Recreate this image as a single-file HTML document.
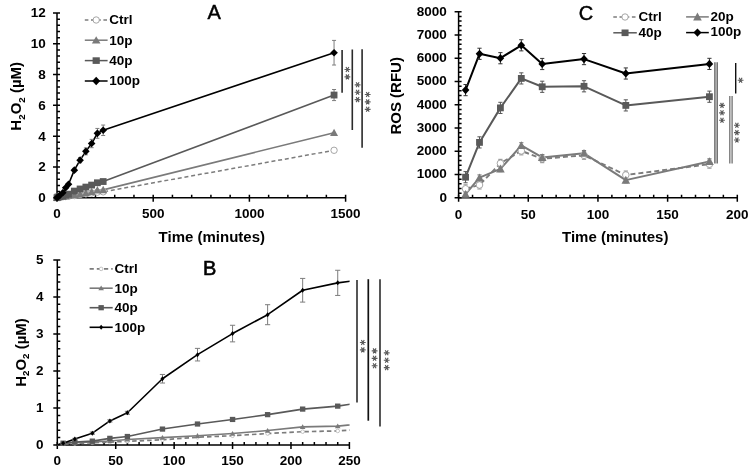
<!DOCTYPE html><html><head><meta charset="utf-8"><style>html,body{margin:0;padding:0;background:#fff;}svg{display:block;will-change:transform;}text{font-family:"Liberation Sans", sans-serif;}</style></head><body>
<svg width="751" height="471" viewBox="0 0 751 471">
<rect width="751" height="471" fill="#fff"/>
<defs><clipPath id="clipB"><rect x="57" y="255" width="292.6" height="195"/></clipPath></defs>
<path d="M57 13V197.7M53 197.7H60M53 166.92H60M53 136.13H60M53 105.35H60M53 74.57H60M53 43.78H60M53 13H60M57 191.54H60M57 185.39H60M57 179.23H60M57 173.07H60M57 160.76H60M57 154.6H60M57 148.45H60M57 142.29H60M57 129.98H60M57 123.82H60M57 117.66H60M57 111.51H60M57 99.19H60M57 93.04H60M57 86.88H60M57 80.72H60M57 68.41H60M57 62.25H60M57 56.1H60M57 49.94H60M57 37.63H60M57 31.47H60M57 25.31H60M57 19.16H60" stroke="#000" stroke-width="1.5" fill="none"/>
<path d="M57 197.7H345.6M57 194.7V201.7M153.2 194.7V201.7M249.4 194.7V201.7M345.6 194.7V201.7M76.24 194.7V197.7M95.48 194.7V197.7M114.72 194.7V197.7M133.96 194.7V197.7M172.44 194.7V197.7M191.68 194.7V197.7M210.92 194.7V197.7M230.16 194.7V197.7M268.64 194.7V197.7M287.88 194.7V197.7M307.12 194.7V197.7M326.36 194.7V197.7" stroke="#000" stroke-width="1.5" fill="none"/>
<text x="45.8" y="202.1" font-size="13.5" font-weight="bold" text-anchor="end" fill="#000">0</text>
<text x="45.8" y="171.32" font-size="13.5" font-weight="bold" text-anchor="end" fill="#000">2</text>
<text x="45.8" y="140.53" font-size="13.5" font-weight="bold" text-anchor="end" fill="#000">4</text>
<text x="45.8" y="109.75" font-size="13.5" font-weight="bold" text-anchor="end" fill="#000">6</text>
<text x="45.8" y="78.97" font-size="13.5" font-weight="bold" text-anchor="end" fill="#000">8</text>
<text x="45.8" y="48.18" font-size="13.5" font-weight="bold" text-anchor="end" fill="#000">10</text>
<text x="45.8" y="17.4" font-size="13.5" font-weight="bold" text-anchor="end" fill="#000">12</text>
<text x="57" y="218.3" font-size="13.5" font-weight="bold" text-anchor="middle" fill="#000">0</text>
<text x="153.2" y="218.3" font-size="13.5" font-weight="bold" text-anchor="middle" fill="#000">500</text>
<text x="249.4" y="218.3" font-size="13.5" font-weight="bold" text-anchor="middle" fill="#000">1000</text>
<text x="345.6" y="218.3" font-size="13.5" font-weight="bold" text-anchor="middle" fill="#000">1500</text>
<text x="211.8" y="242.4" font-size="15" font-weight="bold" text-anchor="middle" fill="#000">Time (minutes)</text>
<text transform="translate(21.3 96.3) rotate(-90)" font-size="15" font-weight="bold" text-anchor="middle" fill="#000">H<tspan font-size="9.8" dy="3.5">2</tspan><tspan dy="-3.5">O</tspan><tspan font-size="9.8" dy="3.5">2</tspan><tspan dy="-3.5"> (µM)</tspan></text>
<text x="214.1" y="19.2" font-size="20" font-weight="normal" text-anchor="middle" fill="#000" stroke="#000" stroke-width="0.45">A</text>
<polyline points="57,197.7 57.96,197.24 59.89,197.08 62.77,196.78 65.66,196.47 68.54,196.16 74.32,195.55 80.09,194.47 85.86,193.85 91.63,192.93 97.4,192.16 103.18,191.85 334.06,150.29" fill="none" stroke="#7c7c7c" stroke-width="1.5" stroke-linejoin="round" stroke-dasharray="4 2.8"/>
<polyline points="57,197.7 57.96,197.08 59.89,196.78 62.77,196.47 65.66,196.01 68.54,195.39 74.32,194.62 80.09,193.85 85.86,192.93 91.63,191.7 97.4,190.16 103.18,189.85 334.06,132.75" fill="none" stroke="#7a7a7a" stroke-width="1.6" stroke-linejoin="round"/>
<polyline points="57,197.7 57.96,196.93 59.89,196.47 62.77,196.08 65.66,194.93 68.54,194.16 74.32,191.08 80.09,188.97 85.86,187.08 91.63,185.08 97.4,182.77 103.18,181.54 334.06,95.04" fill="none" stroke="#595959" stroke-width="1.6" stroke-linejoin="round"/>
<polyline points="57,197.7 57.96,196.93 59.89,195.24 62.77,192.77 65.66,187.7 68.54,184.31 74.32,170.15 80.09,160.14 85.86,151.37 91.63,143.52 97.4,133.36 103.18,130.28 334.06,52.71" fill="none" stroke="#000" stroke-width="1.6" stroke-linejoin="round"/>
<path d="M334.06 40.4V65.02M332.06 40.4H336.06M332.06 65.02H336.06" stroke="#7d7d7d" stroke-width="1.0" fill="none"/>
<path d="M334.06 89.5V100.58M332.06 89.5H336.06M332.06 100.58H336.06" stroke="#7d7d7d" stroke-width="1.0" fill="none"/>


<path d="M59.89 194.93V195.55M57.89 194.93H61.89M57.89 195.55H61.89" stroke="#7d7d7d" stroke-width="1.0" fill="none"/>
<path d="M62.77 192.31V193.24M60.77 192.31H64.77M60.77 193.24H64.77" stroke="#7d7d7d" stroke-width="1.0" fill="none"/>
<path d="M65.66 187.23V188.16M63.66 187.23H67.66M63.66 188.16H67.66" stroke="#7d7d7d" stroke-width="1.0" fill="none"/>
<path d="M68.54 183.69V184.92M66.54 183.69H70.54M66.54 184.92H70.54" stroke="#7d7d7d" stroke-width="1.0" fill="none"/>
<path d="M74.32 168.36V171.93M72.32 168.36H76.32M72.32 171.93H76.32" stroke="#7d7d7d" stroke-width="1.0" fill="none"/>
<path d="M80.09 157.53V162.76M78.09 157.53H82.09M78.09 162.76H82.09" stroke="#7d7d7d" stroke-width="1.0" fill="none"/>
<path d="M85.86 147.92V154.82M83.86 147.92H87.86M83.86 154.82H87.86" stroke="#7d7d7d" stroke-width="1.0" fill="none"/>
<path d="M91.63 139.37V147.68M89.63 139.37H93.63M89.63 147.68H93.63" stroke="#7d7d7d" stroke-width="1.0" fill="none"/>
<path d="M97.4 128.44V138.29M95.4 128.44H99.4M95.4 138.29H99.4" stroke="#7d7d7d" stroke-width="1.0" fill="none"/>
<path d="M103.18 125.05V135.52M101.18 125.05H105.18M101.18 135.52H105.18" stroke="#7d7d7d" stroke-width="1.0" fill="none"/>
<circle cx="57" cy="197.7" r="3.2" fill="#fff" stroke="#a6a6a6" stroke-width="1.0"/>
<circle cx="57.96" cy="197.24" r="3.2" fill="#fff" stroke="#a6a6a6" stroke-width="1.0"/>
<circle cx="59.89" cy="197.08" r="3.2" fill="#fff" stroke="#a6a6a6" stroke-width="1.0"/>
<circle cx="62.77" cy="196.78" r="3.2" fill="#fff" stroke="#a6a6a6" stroke-width="1.0"/>
<circle cx="65.66" cy="196.47" r="3.2" fill="#fff" stroke="#a6a6a6" stroke-width="1.0"/>
<circle cx="68.54" cy="196.16" r="3.2" fill="#fff" stroke="#a6a6a6" stroke-width="1.0"/>
<circle cx="74.32" cy="195.55" r="3.2" fill="#fff" stroke="#a6a6a6" stroke-width="1.0"/>
<circle cx="80.09" cy="194.47" r="3.2" fill="#fff" stroke="#a6a6a6" stroke-width="1.0"/>
<circle cx="85.86" cy="193.85" r="3.2" fill="#fff" stroke="#a6a6a6" stroke-width="1.0"/>
<circle cx="91.63" cy="192.93" r="3.2" fill="#fff" stroke="#a6a6a6" stroke-width="1.0"/>
<circle cx="97.4" cy="192.16" r="3.2" fill="#fff" stroke="#a6a6a6" stroke-width="1.0"/>
<circle cx="103.18" cy="191.85" r="3.2" fill="#fff" stroke="#a6a6a6" stroke-width="1.0"/>
<circle cx="334.06" cy="150.29" r="3.2" fill="#fff" stroke="#a6a6a6" stroke-width="1.0"/>
<path d="M57 193.63L61 201.03L53 201.03Z" fill="#7a7a7a"/>
<path d="M57.96 193.01L61.96 200.41L53.96 200.41Z" fill="#7a7a7a"/>
<path d="M59.89 192.71L63.89 200.11L55.89 200.11Z" fill="#7a7a7a"/>
<path d="M62.77 192.4L66.77 199.8L58.77 199.8Z" fill="#7a7a7a"/>
<path d="M65.66 191.94L69.66 199.34L61.66 199.34Z" fill="#7a7a7a"/>
<path d="M68.54 191.32L72.54 198.72L64.54 198.72Z" fill="#7a7a7a"/>
<path d="M74.32 190.55L78.32 197.95L70.32 197.95Z" fill="#7a7a7a"/>
<path d="M80.09 189.78L84.09 197.18L76.09 197.18Z" fill="#7a7a7a"/>
<path d="M85.86 188.86L89.86 196.26L81.86 196.26Z" fill="#7a7a7a"/>
<path d="M91.63 187.63L95.63 195.03L87.63 195.03Z" fill="#7a7a7a"/>
<path d="M97.4 186.09L101.4 193.49L93.4 193.49Z" fill="#7a7a7a"/>
<path d="M103.18 185.78L107.18 193.18L99.18 193.18Z" fill="#7a7a7a"/>
<path d="M334.06 128.68L338.06 136.08L330.06 136.08Z" fill="#7a7a7a"/>
<rect x="53.6" y="194.3" width="6.8" height="6.8" fill="#595959"/>
<rect x="54.56" y="193.53" width="6.8" height="6.8" fill="#595959"/>
<rect x="56.49" y="193.07" width="6.8" height="6.8" fill="#595959"/>
<rect x="59.37" y="192.68" width="6.8" height="6.8" fill="#595959"/>
<rect x="62.26" y="191.53" width="6.8" height="6.8" fill="#595959"/>
<rect x="65.14" y="190.76" width="6.8" height="6.8" fill="#595959"/>
<rect x="70.92" y="187.68" width="6.8" height="6.8" fill="#595959"/>
<rect x="76.69" y="185.57" width="6.8" height="6.8" fill="#595959"/>
<rect x="82.46" y="183.68" width="6.8" height="6.8" fill="#595959"/>
<rect x="88.23" y="181.68" width="6.8" height="6.8" fill="#595959"/>
<rect x="94" y="179.37" width="6.8" height="6.8" fill="#595959"/>
<rect x="99.78" y="178.14" width="6.8" height="6.8" fill="#595959"/>
<rect x="330.66" y="91.64" width="6.8" height="6.8" fill="#595959"/>
<path d="M57 193.9L60.8 197.7L57 201.5L53.2 197.7Z" fill="#000"/>
<path d="M57.96 193.13L61.76 196.93L57.96 200.73L54.16 196.93Z" fill="#000"/>
<path d="M59.89 191.44L63.69 195.24L59.89 199.04L56.09 195.24Z" fill="#000"/>
<path d="M62.77 188.97L66.57 192.77L62.77 196.57L58.97 192.77Z" fill="#000"/>
<path d="M65.66 183.9L69.46 187.7L65.66 191.5L61.86 187.7Z" fill="#000"/>
<path d="M68.54 180.51L72.34 184.31L68.54 188.11L64.74 184.31Z" fill="#000"/>
<path d="M74.32 166.35L78.12 170.15L74.32 173.95L70.52 170.15Z" fill="#000"/>
<path d="M80.09 156.34L83.89 160.14L80.09 163.94L76.29 160.14Z" fill="#000"/>
<path d="M85.86 147.57L89.66 151.37L85.86 155.17L82.06 151.37Z" fill="#000"/>
<path d="M91.63 139.72L95.43 143.52L91.63 147.32L87.83 143.52Z" fill="#000"/>
<path d="M97.4 129.56L101.2 133.36L97.4 137.16L93.6 133.36Z" fill="#000"/>
<path d="M103.18 126.48L106.98 130.28L103.18 134.08L99.38 130.28Z" fill="#000"/>
<path d="M334.06 48.91L337.86 52.71L334.06 56.51L330.26 52.71Z" fill="#000"/>
<path d="M84.8 20H107.6" stroke="#7c7c7c" stroke-width="1.5" stroke-dasharray="3.6 2.6"/><circle cx="96.2" cy="20" r="3.2" fill="#fff" stroke="#a6a6a6" stroke-width="1.0"/><text x="109.2" y="24.3" font-size="13.5" font-weight="bold" text-anchor="start" fill="#000">Ctrl</text>
<path d="M84.8 40.2H107.6" stroke="#7a7a7a" stroke-width="1.5"/><path d="M96.2 36.13L100.5 43.53L91.9 43.53Z" fill="#7a7a7a"/><text x="109.2" y="44.5" font-size="13.5" font-weight="bold" text-anchor="start" fill="#000">10p</text>
<path d="M84.8 60.6H107.6" stroke="#595959" stroke-width="1.5"/><rect x="92.6" y="57.3" width="7.2" height="6.6" fill="#595959"/><text x="109.2" y="64.9" font-size="13.5" font-weight="bold" text-anchor="start" fill="#000">40p</text>
<path d="M84.8 81H107.6" stroke="#000" stroke-width="1.5"/><path d="M96.2 76.8L100.2 81L96.2 85.2L92.2 81Z" fill="#000"/><text x="109.2" y="85.3" font-size="13.5" font-weight="bold" text-anchor="start" fill="#000">100p</text>
<path d="M342.1 49.9V92.8M352.3 49.6V129.9M362.1 49.2V147.7" stroke="#2b2b2b" stroke-width="1.6" fill="none"/>
<path d="M344.5 69.5L350.3 69.5M345.95 66.99L348.85 72.01M348.85 66.99L345.95 72.01" stroke="#5a5a5a" stroke-width="1.15" fill="none"/><path d="M344.5 76.9L350.3 76.9M345.95 74.39L348.85 79.41M348.85 74.39L345.95 79.41" stroke="#5a5a5a" stroke-width="1.15" fill="none"/>
<path d="M354.7 84.8L360.5 84.8M356.15 82.29L359.05 87.31M359.05 82.29L356.15 87.31" stroke="#5a5a5a" stroke-width="1.15" fill="none"/><path d="M354.7 92.2L360.5 92.2M356.15 89.69L359.05 94.71M359.05 89.69L356.15 94.71" stroke="#5a5a5a" stroke-width="1.15" fill="none"/><path d="M354.7 99.6L360.5 99.6M356.15 97.09L359.05 102.11M359.05 97.09L356.15 102.11" stroke="#5a5a5a" stroke-width="1.15" fill="none"/>
<path d="M364.8 94.5L370.6 94.5M366.25 91.99L369.15 97.01M369.15 91.99L366.25 97.01" stroke="#5a5a5a" stroke-width="1.15" fill="none"/><path d="M364.8 101.9L370.6 101.9M366.25 99.39L369.15 104.41M369.15 99.39L366.25 104.41" stroke="#5a5a5a" stroke-width="1.15" fill="none"/><path d="M364.8 109.3L370.6 109.3M366.25 106.79L369.15 111.81M369.15 106.79L366.25 111.81" stroke="#5a5a5a" stroke-width="1.15" fill="none"/>
<path d="M57.3 259.9V445M53.3 445H60.3M53.3 407.98H60.3M53.3 370.96H60.3M53.3 333.94H60.3M53.3 296.92H60.3M53.3 259.9H60.3M57.3 437.6H60.3M57.3 430.19H60.3M57.3 422.79H60.3M57.3 415.38H60.3M57.3 400.58H60.3M57.3 393.17H60.3M57.3 385.77H60.3M57.3 378.36H60.3M57.3 363.56H60.3M57.3 356.15H60.3M57.3 348.75H60.3M57.3 341.34H60.3M57.3 326.54H60.3M57.3 319.13H60.3M57.3 311.73H60.3M57.3 304.32H60.3M57.3 289.52H60.3M57.3 282.11H60.3M57.3 274.71H60.3M57.3 267.3H60.3" stroke="#000" stroke-width="1.5" fill="none"/>
<path d="M57.3 445H349.4M57.3 442V449M115.72 442V449M174.14 442V449M232.56 442V449M290.98 442V449M349.4 442V449M68.98 442V445M80.67 442V445M92.35 442V445M104.04 442V445M127.4 442V445M139.09 442V445M150.77 442V445M162.46 442V445M185.82 442V445M197.51 442V445M209.19 442V445M220.88 442V445M244.24 442V445M255.93 442V445M267.61 442V445M279.3 442V445M302.66 442V445M314.35 442V445M326.03 442V445M337.72 442V445" stroke="#000" stroke-width="1.5" fill="none"/>
<text x="43.6" y="449.1" font-size="13.5" font-weight="bold" text-anchor="end" fill="#000">0</text>
<text x="43.6" y="412.08" font-size="13.5" font-weight="bold" text-anchor="end" fill="#000">1</text>
<text x="43.6" y="375.06" font-size="13.5" font-weight="bold" text-anchor="end" fill="#000">2</text>
<text x="43.6" y="338.04" font-size="13.5" font-weight="bold" text-anchor="end" fill="#000">3</text>
<text x="43.6" y="301.02" font-size="13.5" font-weight="bold" text-anchor="end" fill="#000">4</text>
<text x="43.6" y="264" font-size="13.5" font-weight="bold" text-anchor="end" fill="#000">5</text>
<text x="57.3" y="464.8" font-size="13.5" font-weight="bold" text-anchor="middle" fill="#000">0</text>
<text x="115.72" y="464.8" font-size="13.5" font-weight="bold" text-anchor="middle" fill="#000">50</text>
<text x="174.14" y="464.8" font-size="13.5" font-weight="bold" text-anchor="middle" fill="#000">100</text>
<text x="232.56" y="464.8" font-size="13.5" font-weight="bold" text-anchor="middle" fill="#000">150</text>
<text x="290.98" y="464.8" font-size="13.5" font-weight="bold" text-anchor="middle" fill="#000">200</text>
<text x="349.4" y="464.8" font-size="13.5" font-weight="bold" text-anchor="middle" fill="#000">250</text>
<text transform="translate(25.8 352.5) rotate(-90)" font-size="15" font-weight="bold" text-anchor="middle" fill="#000">H<tspan font-size="9.8" dy="3.5">2</tspan><tspan dy="-3.5">O</tspan><tspan font-size="9.8" dy="3.5">2</tspan><tspan dy="-3.5"> (µM)</tspan></text>
<text x="209.6" y="274.5" font-size="20" font-weight="normal" text-anchor="middle" fill="#000" stroke="#000" stroke-width="0.6">B</text>
<polyline points="57.3,445 63.14,443.89 74.83,443.52 92.35,442.78 109.88,442.04 127.4,441.3 162.46,439.82 197.51,437.23 232.56,435.75 267.61,433.52 302.66,431.67 337.72,430.93 1739.8,330.98" fill="none" stroke="#7c7c7c" stroke-width="1.7" stroke-linejoin="round" stroke-dasharray="4.5 3" clip-path="url(#clipB)"/>
<polyline points="57.3,445 63.14,443.52 74.83,442.78 92.35,442.04 109.88,440.93 127.4,439.45 162.46,437.6 197.51,435.75 232.56,433.52 267.61,430.56 302.66,426.86 337.72,426.12 1739.8,288.78" fill="none" stroke="#7a7a7a" stroke-width="1.6" stroke-linejoin="round" clip-path="url(#clipB)"/>
<polyline points="57.3,445 63.14,443.15 74.83,442.04 92.35,441.11 109.88,438.34 127.4,436.49 162.46,429.08 197.51,424.01 232.56,419.46 267.61,414.64 302.66,409.09 337.72,406.13 1739.8,198.08" fill="none" stroke="#595959" stroke-width="1.6" stroke-linejoin="round" clip-path="url(#clipB)"/>
<polyline points="57.3,445 63.14,443.15 74.83,439.08 92.35,433.15 109.88,420.94 127.4,412.79 162.46,378.73 197.51,354.67 232.56,333.57 267.61,314.69 302.66,290.26 337.72,282.85 1739.8,96.27" fill="none" stroke="#000" stroke-width="1.6" stroke-linejoin="round" clip-path="url(#clipB)"/>

<path d="M63.14 442.78V443.52M60.54 442.78H65.74M60.54 443.52H65.74" stroke="#7d7d7d" stroke-width="1.0" fill="none"/>
<path d="M74.83 438.34V439.82M72.23 438.34H77.43M72.23 439.82H77.43" stroke="#7d7d7d" stroke-width="1.0" fill="none"/>
<path d="M92.35 432.04V434.26M89.75 432.04H94.95M89.75 434.26H94.95" stroke="#7d7d7d" stroke-width="1.0" fill="none"/>
<path d="M109.88 419.83V422.05M107.28 419.83H112.48M107.28 422.05H112.48" stroke="#7d7d7d" stroke-width="1.0" fill="none"/>
<path d="M127.4 411.31V414.27M124.8 411.31H130M124.8 414.27H130" stroke="#7d7d7d" stroke-width="1.0" fill="none"/>
<path d="M162.46 374.44V383.03M159.86 374.44H165.06M159.86 383.03H165.06" stroke="#7d7d7d" stroke-width="1.0" fill="none"/>
<path d="M197.51 348.38V360.96M194.91 348.38H200.11M194.91 360.96H200.11" stroke="#7d7d7d" stroke-width="1.0" fill="none"/>
<path d="M232.56 325.28V341.86M229.96 325.28H235.16M229.96 341.86H235.16" stroke="#7d7d7d" stroke-width="1.0" fill="none"/>
<path d="M267.61 304.69V324.69M265.01 304.69H270.21M265.01 324.69H270.21" stroke="#7d7d7d" stroke-width="1.0" fill="none"/>
<path d="M302.66 278.41V302.1M300.06 278.41H305.26M300.06 302.1H305.26" stroke="#7d7d7d" stroke-width="1.0" fill="none"/>
<path d="M337.72 270.27V295.44M335.12 270.27H340.32M335.12 295.44H340.32" stroke="#7d7d7d" stroke-width="1.0" fill="none"/>
<circle cx="63.14" cy="443.89" r="1.8" fill="#fff" stroke="#b5b5b5" stroke-width="0.8"/>
<circle cx="74.83" cy="443.52" r="1.8" fill="#fff" stroke="#b5b5b5" stroke-width="0.8"/>
<circle cx="92.35" cy="442.78" r="1.8" fill="#fff" stroke="#b5b5b5" stroke-width="0.8"/>
<circle cx="109.88" cy="442.04" r="1.8" fill="#fff" stroke="#b5b5b5" stroke-width="0.8"/>
<circle cx="127.4" cy="441.3" r="1.8" fill="#fff" stroke="#b5b5b5" stroke-width="0.8"/>
<circle cx="162.46" cy="439.82" r="1.8" fill="#fff" stroke="#b5b5b5" stroke-width="0.8"/>
<circle cx="197.51" cy="437.23" r="1.8" fill="#fff" stroke="#b5b5b5" stroke-width="0.8"/>
<circle cx="232.56" cy="435.75" r="1.8" fill="#fff" stroke="#b5b5b5" stroke-width="0.8"/>
<circle cx="267.61" cy="433.52" r="1.8" fill="#fff" stroke="#b5b5b5" stroke-width="0.8"/>
<circle cx="302.66" cy="431.67" r="1.8" fill="#fff" stroke="#b5b5b5" stroke-width="0.8"/>
<circle cx="337.72" cy="430.93" r="1.8" fill="#fff" stroke="#b5b5b5" stroke-width="0.8"/>
<path d="M63.14 440.88L65.94 445.68L60.34 445.68Z" fill="#7a7a7a"/>
<path d="M74.83 440.14L77.63 444.94L72.03 444.94Z" fill="#7a7a7a"/>
<path d="M92.35 439.4L95.15 444.2L89.55 444.2Z" fill="#7a7a7a"/>
<path d="M109.88 438.29L112.68 443.09L107.08 443.09Z" fill="#7a7a7a"/>
<path d="M127.4 436.81L130.2 441.61L124.6 441.61Z" fill="#7a7a7a"/>
<path d="M162.46 434.96L165.26 439.76L159.66 439.76Z" fill="#7a7a7a"/>
<path d="M197.51 433.11L200.31 437.91L194.71 437.91Z" fill="#7a7a7a"/>
<path d="M232.56 430.88L235.36 435.68L229.76 435.68Z" fill="#7a7a7a"/>
<path d="M267.61 427.92L270.41 432.72L264.81 432.72Z" fill="#7a7a7a"/>
<path d="M302.66 424.22L305.46 429.02L299.86 429.02Z" fill="#7a7a7a"/>
<path d="M337.72 423.48L340.52 428.28L334.92 428.28Z" fill="#7a7a7a"/>
<rect x="60.44" y="440.55" width="5.4" height="5.2" fill="#595959"/>
<rect x="72.13" y="439.44" width="5.4" height="5.2" fill="#595959"/>
<rect x="89.65" y="438.51" width="5.4" height="5.2" fill="#595959"/>
<rect x="107.18" y="435.74" width="5.4" height="5.2" fill="#595959"/>
<rect x="124.7" y="433.89" width="5.4" height="5.2" fill="#595959"/>
<rect x="159.76" y="426.48" width="5.4" height="5.2" fill="#595959"/>
<rect x="194.81" y="421.41" width="5.4" height="5.2" fill="#595959"/>
<rect x="229.86" y="416.86" width="5.4" height="5.2" fill="#595959"/>
<rect x="264.91" y="412.04" width="5.4" height="5.2" fill="#595959"/>
<rect x="299.96" y="406.49" width="5.4" height="5.2" fill="#595959"/>
<rect x="335.02" y="403.53" width="5.4" height="5.2" fill="#595959"/>
<path d="M63.14 440.65L65.14 443.15L63.14 445.65L61.14 443.15Z" fill="#000"/>
<path d="M74.83 436.58L76.83 439.08L74.83 441.58L72.83 439.08Z" fill="#000"/>
<path d="M92.35 430.65L94.35 433.15L92.35 435.65L90.35 433.15Z" fill="#000"/>
<path d="M109.88 418.44L111.88 420.94L109.88 423.44L107.88 420.94Z" fill="#000"/>
<path d="M127.4 410.29L129.4 412.79L127.4 415.29L125.4 412.79Z" fill="#000"/>
<path d="M162.46 376.23L164.46 378.73L162.46 381.23L160.46 378.73Z" fill="#000"/>
<path d="M197.51 352.17L199.51 354.67L197.51 357.17L195.51 354.67Z" fill="#000"/>
<path d="M232.56 331.07L234.56 333.57L232.56 336.07L230.56 333.57Z" fill="#000"/>
<path d="M267.61 312.19L269.61 314.69L267.61 317.19L265.61 314.69Z" fill="#000"/>
<path d="M302.66 287.76L304.66 290.26L302.66 292.76L300.66 290.26Z" fill="#000"/>
<path d="M337.72 280.35L339.72 282.85L337.72 285.35L335.72 282.85Z" fill="#000"/>
<path d="M89.6 268.9H112.7" stroke="#7c7c7c" stroke-width="1.6" stroke-dasharray="4.2 3"/><circle cx="101.15" cy="268.9" r="1.8" fill="#fff" stroke="#b5b5b5" stroke-width="0.8"/><text x="114.6" y="273.2" font-size="13.5" font-weight="bold" text-anchor="start" fill="#000">Ctrl</text>
<path d="M89.6 288.2H112.7" stroke="#7a7a7a" stroke-width="1.6"/><path d="M101.15 285.56L103.95 290.36L98.35 290.36Z" fill="#7a7a7a"/><text x="114.6" y="292.5" font-size="13.5" font-weight="bold" text-anchor="start" fill="#000">10p</text>
<path d="M89.6 307.7H112.7" stroke="#595959" stroke-width="1.6"/><rect x="98.45" y="305.1" width="5.4" height="5.2" fill="#595959"/><text x="114.6" y="312" font-size="13.5" font-weight="bold" text-anchor="start" fill="#000">40p</text>
<path d="M89.6 327.3H112.7" stroke="#000" stroke-width="1.6"/><path d="M101.15 324.8L103.15 327.3L101.15 329.8L99.15 327.3Z" fill="#000"/><text x="114.6" y="331.6" font-size="13.5" font-weight="bold" text-anchor="start" fill="#000">100p</text>
<path d="M357 280V402.5M380 279.2V426.4" stroke="#3a3a3a" stroke-width="1.7" fill="none"/>
<path d="M368.3 279.2V420.7" stroke="#111" stroke-width="1.7" fill="none"/>
<path d="M359.9 342.5L365.7 342.5M361.35 339.99L364.25 345.01M364.25 339.99L361.35 345.01" stroke="#5a5a5a" stroke-width="1.15" fill="none"/><path d="M359.9 349.9L365.7 349.9M361.35 347.39L364.25 352.41M364.25 347.39L361.35 352.41" stroke="#5a5a5a" stroke-width="1.15" fill="none"/>
<path d="M371.7 350.9L377.5 350.9M373.15 348.39L376.05 353.41M376.05 348.39L373.15 353.41" stroke="#5a5a5a" stroke-width="1.15" fill="none"/><path d="M371.7 358.3L377.5 358.3M373.15 355.79L376.05 360.81M376.05 355.79L373.15 360.81" stroke="#5a5a5a" stroke-width="1.15" fill="none"/><path d="M371.7 365.7L377.5 365.7M373.15 363.19L376.05 368.21M376.05 363.19L373.15 368.21" stroke="#5a5a5a" stroke-width="1.15" fill="none"/>
<path d="M383.8 352.8L389.6 352.8M385.25 350.29L388.15 355.31M388.15 350.29L385.25 355.31" stroke="#5a5a5a" stroke-width="1.15" fill="none"/><path d="M383.8 360.2L389.6 360.2M385.25 357.69L388.15 362.71M388.15 357.69L385.25 362.71" stroke="#5a5a5a" stroke-width="1.15" fill="none"/><path d="M383.8 367.6L389.6 367.6M385.25 365.09L388.15 370.11M388.15 365.09L385.25 370.11" stroke="#5a5a5a" stroke-width="1.15" fill="none"/>
<path d="M458.6 11.8V197.8M454.6 197.8H461.6M454.6 174.55H461.6M454.6 151.3H461.6M454.6 128.05H461.6M454.6 104.8H461.6M454.6 81.55H461.6M454.6 58.3H461.6M454.6 35.05H461.6M454.6 11.8H461.6M458.6 193.15H461.6M458.6 188.5H461.6M458.6 183.85H461.6M458.6 179.2H461.6M458.6 169.9H461.6M458.6 165.25H461.6M458.6 160.6H461.6M458.6 155.95H461.6M458.6 146.65H461.6M458.6 142H461.6M458.6 137.35H461.6M458.6 132.7H461.6M458.6 123.4H461.6M458.6 118.75H461.6M458.6 114.1H461.6M458.6 109.45H461.6M458.6 100.15H461.6M458.6 95.5H461.6M458.6 90.85H461.6M458.6 86.2H461.6M458.6 76.9H461.6M458.6 72.25H461.6M458.6 67.6H461.6M458.6 62.95H461.6M458.6 53.65H461.6M458.6 49H461.6M458.6 44.35H461.6M458.6 39.7H461.6M458.6 30.4H461.6M458.6 25.75H461.6M458.6 21.1H461.6M458.6 16.45H461.6" stroke="#000" stroke-width="1.5" fill="none"/>
<path d="M458.6 197.8H737.3M458.6 194.8V201.8M528.27 194.8V201.8M597.95 194.8V201.8M667.62 194.8V201.8M737.3 194.8V201.8M472.54 194.8V197.8M486.47 194.8V197.8M500.41 194.8V197.8M514.34 194.8V197.8M542.21 194.8V197.8M556.14 194.8V197.8M570.08 194.8V197.8M584.01 194.8V197.8M611.88 194.8V197.8M625.82 194.8V197.8M639.75 194.8V197.8M653.69 194.8V197.8M681.56 194.8V197.8M695.5 194.8V197.8M709.43 194.8V197.8M723.37 194.8V197.8" stroke="#000" stroke-width="1.5" fill="none"/>
<text x="446.9" y="201.6" font-size="13.5" font-weight="bold" text-anchor="end" fill="#000">0</text>
<text x="446.9" y="178.35" font-size="13.5" font-weight="bold" text-anchor="end" fill="#000">1000</text>
<text x="446.9" y="155.1" font-size="13.5" font-weight="bold" text-anchor="end" fill="#000">2000</text>
<text x="446.9" y="131.85" font-size="13.5" font-weight="bold" text-anchor="end" fill="#000">3000</text>
<text x="446.9" y="108.6" font-size="13.5" font-weight="bold" text-anchor="end" fill="#000">4000</text>
<text x="446.9" y="85.35" font-size="13.5" font-weight="bold" text-anchor="end" fill="#000">5000</text>
<text x="446.9" y="62.1" font-size="13.5" font-weight="bold" text-anchor="end" fill="#000">6000</text>
<text x="446.9" y="38.85" font-size="13.5" font-weight="bold" text-anchor="end" fill="#000">7000</text>
<text x="446.9" y="15.6" font-size="13.5" font-weight="bold" text-anchor="end" fill="#000">8000</text>
<text x="458.6" y="218.8" font-size="13.5" font-weight="bold" text-anchor="middle" fill="#000">0</text>
<text x="528.27" y="218.8" font-size="13.5" font-weight="bold" text-anchor="middle" fill="#000">50</text>
<text x="597.95" y="218.8" font-size="13.5" font-weight="bold" text-anchor="middle" fill="#000">100</text>
<text x="667.62" y="218.8" font-size="13.5" font-weight="bold" text-anchor="middle" fill="#000">150</text>
<text x="737.3" y="218.8" font-size="13.5" font-weight="bold" text-anchor="middle" fill="#000">200</text>
<text x="615.2" y="242.4" font-size="15" font-weight="bold" text-anchor="middle" fill="#000">Time (minutes)</text>
<text transform="translate(400.5 95.8) rotate(-90)" font-size="15" font-weight="bold" text-anchor="middle" fill="#000">ROS (RFU)</text>
<text x="586" y="20.2" font-size="20" font-weight="normal" text-anchor="middle" fill="#000" stroke="#000" stroke-width="0.45">C</text>
<polyline points="465.57,188.8 479.5,185.01 500.41,163.3 521.31,150.9 542.21,158.74 584.01,155.3 625.82,174.99 709.43,164.2" fill="none" stroke="#7c7c7c" stroke-width="1.9" stroke-linejoin="round" stroke-dasharray="5 3"/>
<polyline points="465.57,194.2 479.5,177.69 500.41,168.9 521.31,145.49 542.21,157.46 584.01,153.3 625.82,180.13 709.43,161.6" fill="none" stroke="#7a7a7a" stroke-width="2.0" stroke-linejoin="round"/>
<polyline points="465.57,177.2 479.5,142.4 500.41,107.89 521.31,78.41 542.21,86.78 584.01,86.29 625.82,105.4 709.43,96.71" fill="none" stroke="#595959" stroke-width="2.0" stroke-linejoin="round"/>
<polyline points="465.57,90.11 479.5,53.81 500.41,58.21 521.31,45.3 542.21,64 584.01,59.09 625.82,73.51 709.43,63.9" fill="none" stroke="#000" stroke-width="2.0" stroke-linejoin="round"/>
<path d="M465.57 184.85V192.75M463.47 184.85H467.67M463.47 192.75H467.67" stroke="#8a8a8a" stroke-width="1.0" fill="none"/>
<path d="M479.5 181.06V188.97M477.4 181.06H481.6M477.4 188.97H481.6" stroke="#8a8a8a" stroke-width="1.0" fill="none"/>
<path d="M500.41 159.34V167.25M498.31 159.34H502.51M498.31 167.25H502.51" stroke="#8a8a8a" stroke-width="1.0" fill="none"/>
<path d="M521.31 146.95V154.86M519.21 146.95H523.41M519.21 154.86H523.41" stroke="#8a8a8a" stroke-width="1.0" fill="none"/>
<path d="M542.21 154.79V162.69M540.11 154.79H544.31M540.11 162.69H544.31" stroke="#8a8a8a" stroke-width="1.0" fill="none"/>
<path d="M584.01 151.35V159.25M581.91 151.35H586.12M581.91 159.25H586.12" stroke="#8a8a8a" stroke-width="1.0" fill="none"/>
<path d="M625.82 171.04V178.94M623.72 171.04H627.92M623.72 178.94H627.92" stroke="#8a8a8a" stroke-width="1.0" fill="none"/>
<path d="M709.43 160.25V168.16M707.33 160.25H711.53M707.33 168.16H711.53" stroke="#8a8a8a" stroke-width="1.0" fill="none"/>
<path d="M465.57 191.41V196.99M463.47 191.41H467.67M463.47 196.99H467.67" stroke="#7a7a7a" stroke-width="1.0" fill="none"/>
<path d="M479.5 174.9V180.48M477.4 174.9H481.6M477.4 180.48H481.6" stroke="#7a7a7a" stroke-width="1.0" fill="none"/>
<path d="M500.41 166.11V171.69M498.31 166.11H502.51M498.31 171.69H502.51" stroke="#7a7a7a" stroke-width="1.0" fill="none"/>
<path d="M521.31 142.7V148.28M519.21 142.7H523.41M519.21 148.28H523.41" stroke="#7a7a7a" stroke-width="1.0" fill="none"/>
<path d="M542.21 154.67V160.25M540.11 154.67H544.31M540.11 160.25H544.31" stroke="#7a7a7a" stroke-width="1.0" fill="none"/>
<path d="M584.01 150.51V156.09M581.91 150.51H586.12M581.91 156.09H586.12" stroke="#7a7a7a" stroke-width="1.0" fill="none"/>
<path d="M625.82 177.34V182.92M623.72 177.34H627.92M623.72 182.92H627.92" stroke="#7a7a7a" stroke-width="1.0" fill="none"/>
<path d="M709.43 158.81V164.39M707.33 158.81H711.53M707.33 164.39H711.53" stroke="#7a7a7a" stroke-width="1.0" fill="none"/>
<path d="M465.57 171.62V182.78M463.47 171.62H467.67M463.47 182.78H467.67" stroke="#555" stroke-width="1.0" fill="none"/>
<path d="M479.5 136.82V147.98M477.4 136.82H481.6M477.4 147.98H481.6" stroke="#555" stroke-width="1.0" fill="none"/>
<path d="M500.41 102.31V113.47M498.31 102.31H502.51M498.31 113.47H502.51" stroke="#555" stroke-width="1.0" fill="none"/>
<path d="M521.31 72.83V83.99M519.21 72.83H523.41M519.21 83.99H523.41" stroke="#555" stroke-width="1.0" fill="none"/>
<path d="M542.21 81.2V92.36M540.11 81.2H544.31M540.11 92.36H544.31" stroke="#555" stroke-width="1.0" fill="none"/>
<path d="M584.01 80.71V91.87M581.91 80.71H586.12M581.91 91.87H586.12" stroke="#555" stroke-width="1.0" fill="none"/>
<path d="M625.82 99.82V110.98M623.72 99.82H627.92M623.72 110.98H627.92" stroke="#555" stroke-width="1.0" fill="none"/>
<path d="M709.43 91.13V102.29M707.33 91.13H711.53M707.33 102.29H711.53" stroke="#555" stroke-width="1.0" fill="none"/>
<path d="M465.57 84.53V95.69M463.47 84.53H467.67M463.47 95.69H467.67" stroke="#333" stroke-width="1.0" fill="none"/>
<path d="M479.5 48.23V59.39M477.4 48.23H481.6M477.4 59.39H481.6" stroke="#333" stroke-width="1.0" fill="none"/>
<path d="M500.41 52.63V63.79M498.31 52.63H502.51M498.31 63.79H502.51" stroke="#333" stroke-width="1.0" fill="none"/>
<path d="M521.31 39.72V50.88M519.21 39.72H523.41M519.21 50.88H523.41" stroke="#333" stroke-width="1.0" fill="none"/>
<path d="M542.21 58.42V69.58M540.11 58.42H544.31M540.11 69.58H544.31" stroke="#333" stroke-width="1.0" fill="none"/>
<path d="M584.01 53.51V64.67M581.91 53.51H586.12M581.91 64.67H586.12" stroke="#333" stroke-width="1.0" fill="none"/>
<path d="M625.82 67.93V79.09M623.72 67.93H627.92M623.72 79.09H627.92" stroke="#333" stroke-width="1.0" fill="none"/>
<path d="M709.43 58.32V69.48M707.33 58.32H711.53M707.33 69.48H711.53" stroke="#333" stroke-width="1.0" fill="none"/>
<circle cx="465.57" cy="188.8" r="3.3" fill="#fff" stroke="#a6a6a6" stroke-width="1.0"/>
<circle cx="479.5" cy="185.01" r="3.3" fill="#fff" stroke="#a6a6a6" stroke-width="1.0"/>
<circle cx="500.41" cy="163.3" r="3.3" fill="#fff" stroke="#a6a6a6" stroke-width="1.0"/>
<circle cx="521.31" cy="150.9" r="3.3" fill="#fff" stroke="#a6a6a6" stroke-width="1.0"/>
<circle cx="542.21" cy="158.74" r="3.3" fill="#fff" stroke="#a6a6a6" stroke-width="1.0"/>
<circle cx="584.01" cy="155.3" r="3.3" fill="#fff" stroke="#a6a6a6" stroke-width="1.0"/>
<circle cx="625.82" cy="174.99" r="3.3" fill="#fff" stroke="#a6a6a6" stroke-width="1.0"/>
<circle cx="709.43" cy="164.2" r="3.3" fill="#fff" stroke="#a6a6a6" stroke-width="1.0"/>
<path d="M465.57 189.91L469.87 197.71L461.27 197.71Z" fill="#7a7a7a"/>
<path d="M479.5 173.4L483.8 181.2L475.2 181.2Z" fill="#7a7a7a"/>
<path d="M500.41 164.61L504.71 172.41L496.11 172.41Z" fill="#7a7a7a"/>
<path d="M521.31 141.2L525.61 149L517.01 149Z" fill="#7a7a7a"/>
<path d="M542.21 153.17L546.51 160.97L537.91 160.97Z" fill="#7a7a7a"/>
<path d="M584.01 149.01L588.31 156.81L579.72 156.81Z" fill="#7a7a7a"/>
<path d="M625.82 175.84L630.12 183.64L621.52 183.64Z" fill="#7a7a7a"/>
<path d="M709.43 157.31L713.73 165.11L705.13 165.11Z" fill="#7a7a7a"/>
<rect x="462.17" y="173.8" width="6.8" height="6.8" fill="#595959"/>
<rect x="476.1" y="139" width="6.8" height="6.8" fill="#595959"/>
<rect x="497.01" y="104.49" width="6.8" height="6.8" fill="#595959"/>
<rect x="517.91" y="75.01" width="6.8" height="6.8" fill="#595959"/>
<rect x="538.81" y="83.38" width="6.8" height="6.8" fill="#595959"/>
<rect x="580.62" y="82.89" width="6.8" height="6.8" fill="#595959"/>
<rect x="622.42" y="102" width="6.8" height="6.8" fill="#595959"/>
<rect x="706.03" y="93.31" width="6.8" height="6.8" fill="#595959"/>
<path d="M465.57 86.01L469.37 90.11L465.57 94.21L461.77 90.11Z" fill="#000"/>
<path d="M479.5 49.71L483.3 53.81L479.5 57.91L475.7 53.81Z" fill="#000"/>
<path d="M500.41 54.11L504.21 58.21L500.41 62.31L496.61 58.21Z" fill="#000"/>
<path d="M521.31 41.2L525.11 45.3L521.31 49.4L517.51 45.3Z" fill="#000"/>
<path d="M542.21 59.9L546.01 64L542.21 68.1L538.41 64Z" fill="#000"/>
<path d="M584.01 54.99L587.81 59.09L584.01 63.19L580.22 59.09Z" fill="#000"/>
<path d="M625.82 69.41L629.62 73.51L625.82 77.61L622.02 73.51Z" fill="#000"/>
<path d="M709.43 59.8L713.23 63.9L709.43 68L705.63 63.9Z" fill="#000"/>
<path d="M613.3 17H636.8" stroke="#7c7c7c" stroke-width="1.5" stroke-dasharray="3.6 2.6"/><circle cx="625.05" cy="17" r="3.2" fill="#fff" stroke="#a6a6a6" stroke-width="1.0"/><text x="638.6" y="20.8" font-size="13.5" font-weight="bold" text-anchor="start" fill="#000">Ctrl</text>
<path d="M686.1 16.9H708.8" stroke="#7a7a7a" stroke-width="1.5"/><path d="M697.45 12.61L701.75 20.41L693.15 20.41Z" fill="#7a7a7a"/><text x="710.5" y="20.7" font-size="13.5" font-weight="bold" text-anchor="start" fill="#000">20p</text>
<path d="M613.3 32.8H636.8" stroke="#595959" stroke-width="1.5"/><rect x="621.55" y="29.5" width="7" height="6.6" fill="#595959"/><text x="638.6" y="36.6" font-size="13.5" font-weight="bold" text-anchor="start" fill="#000">40p</text>
<path d="M686.1 32.6H708.8" stroke="#000" stroke-width="1.5"/><path d="M697.45 28.4L701.45 32.6L697.45 36.8L693.45 32.6Z" fill="#000"/><text x="710.5" y="36.4" font-size="13.5" font-weight="bold" text-anchor="start" fill="#000">100p</text>
<path d="M714.9 62.2V163.6M717.2 62.2V163.6" stroke="#747474" stroke-width="1.6" fill="none"/>
<path d="M729.8 95.9V163.6M732.1 95.9V163.6" stroke="#707070" stroke-width="1.3" fill="none"/>
<path d="M735.7 63V93.5" stroke="#111" stroke-width="1.4" fill="none"/>
<path d="M719.1 105.4L724.9 105.4M720.55 102.89L723.45 107.91M723.45 102.89L720.55 107.91" stroke="#5a5a5a" stroke-width="1.15" fill="none"/><path d="M719.1 112.8L724.9 112.8M720.55 110.29L723.45 115.31M723.45 110.29L720.55 115.31" stroke="#5a5a5a" stroke-width="1.15" fill="none"/><path d="M719.1 120.2L724.9 120.2M720.55 117.69L723.45 122.71M723.45 117.69L720.55 122.71" stroke="#5a5a5a" stroke-width="1.15" fill="none"/>
<path d="M734 125.2L739.8 125.2M735.45 122.69L738.35 127.71M738.35 122.69L735.45 127.71" stroke="#5a5a5a" stroke-width="1.15" fill="none"/><path d="M734 132.6L739.8 132.6M735.45 130.09L738.35 135.11M738.35 130.09L735.45 135.11" stroke="#5a5a5a" stroke-width="1.15" fill="none"/><path d="M734 140L739.8 140M735.45 137.49L738.35 142.51M738.35 137.49L735.45 142.51" stroke="#5a5a5a" stroke-width="1.15" fill="none"/>
<path d="M737.7 80.2L743.5 80.2M739.15 77.69L742.05 82.71M742.05 77.69L739.15 82.71" stroke="#5a5a5a" stroke-width="1.15" fill="none"/>
</svg></body></html>
